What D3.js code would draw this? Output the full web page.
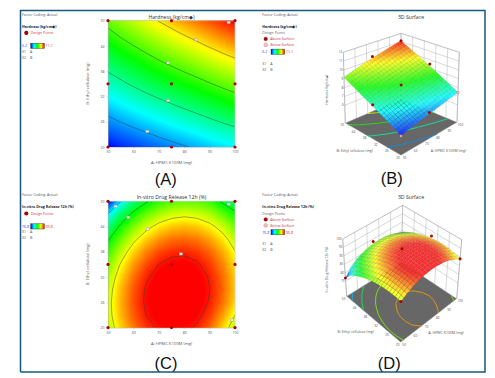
<!DOCTYPE html>
<html>
<head>
<meta charset="utf-8">
<script src="https://cdnjs.cloudflare.com/ajax/libs/d3/7.8.5/d3.min.js"></script>
<style>
  body { margin: 0; background: #fff; }
  text { font-family: "Open Sans", sans-serif; }
  .axis path, .axis line { stroke: #aaa; stroke-width: 0.5; }
  .axis text { font-size: 3.5px; fill: #555; }
</style>
</head>
<body>
<svg id="chart" width="495" height="378"></svg>
<script>
const aGrid = [50, 55, 60, 65, 70, 75, 80, 85, 90, 95, 100];
const bGrid = [20, 23, 26, 29, 32, 35, 38, 41, 44, 47, 50];
const aTicks = [50, 60, 70, 80, 90, 100];
const bTicks = [20, 26, 32, 38, 44, 50];

// rows run from B = 20 up to B = 50, columns from A = 50 to A = 100
const hardness = [
  [6.20, 6.41, 6.52, 6.63, 6.74, 6.85, 6.96, 7.07, 7.19, 7.30, 7.41],
  [6.59, 6.71, 6.83, 6.95, 7.07, 7.19, 7.30, 7.42, 7.55, 7.66, 7.78],
  [6.87, 7.01, 7.14, 7.27, 7.40, 7.52, 7.65, 7.77, 7.90, 8.03, 8.15],
  [7.16, 7.31, 7.45, 7.59, 7.72, 7.86, 7.99, 8.12, 8.26, 8.39, 8.52],
  [7.45, 7.60, 7.76, 7.91, 8.05, 8.19, 8.33, 8.47, 8.61, 8.75, 8.89],
  [7.74, 7.90, 8.07, 8.23, 8.38, 8.53, 8.68, 8.82, 8.97, 9.12, 9.26],
  [8.02, 8.20, 8.37, 8.54, 8.71, 8.87, 9.02, 9.17, 9.33, 9.48, 9.62],
  [8.31, 8.50, 8.68, 8.86, 9.04, 9.20, 9.36, 9.52, 9.68, 9.84, 9.99],
  [8.60, 8.80, 8.99, 9.18, 9.36, 9.54, 9.70, 9.87, 10.04, 10.20, 10.36],
  [8.88, 9.10, 9.30, 9.50, 9.69, 9.87, 10.05, 10.22, 10.39, 10.57, 10.73],
  [9.17, 9.40, 9.61, 9.82, 10.02, 10.21, 10.39, 10.57, 10.75, 10.93, 11.10]
];
const release = [
  [88.96, 91.01, 92.61, 93.78, 94.50, 94.77, 94.61, 94.10, 92.95, 91.10, 88.90],
  [89.36, 91.46, 93.10, 94.32, 95.08, 95.40, 95.29, 94.72, 93.72, 92.00, 90.00],
  [89.44, 91.58, 93.27, 94.54, 95.35, 95.71, 95.64, 95.13, 94.17, 92.77, 90.93],
  [89.23, 91.42, 93.16, 94.47, 95.32, 95.73, 95.71, 95.24, 94.33, 92.98, 91.19],
  [88.70, 90.93, 92.72, 94.07, 94.98, 95.43, 95.46, 95.03, 94.17, 92.86, 91.12],
  [87.86, 90.14, 91.97, 93.37, 94.32, 94.83, 94.90, 94.52, 93.70, 92.44, 90.74],
  [86.72, 89.04, 90.92, 92.37, 93.37, 93.92, 94.03, 93.70, 92.93, 91.72, 90.07],
  [85.27, 87.64, 89.56, 91.06, 92.10, 92.70, 92.86, 92.58, 91.85, 90.69, 89.08],
  [83.50, 85.93, 87.90, 89.44, 90.53, 91.17, 91.38, 91.14, 90.46, 89.34, 87.79],
  [81.00, 83.91, 85.93, 87.52, 88.65, 89.34, 89.60, 89.41, 88.77, 87.50, 86.00],
  [76.80, 80.90, 83.64, 85.27, 86.46, 87.19, 87.46, 87.35, 86.72, 85.20, 83.80]
];

const hardnessLevels = [7, 8, 9, 10, 11];
const releaseLevels = [81, 85.5, 90, 94.3];

const designAB = [[50,20],[75,20],[100,20],[50,35],[75,35],[100,35],[50,50],[75,50],[100,50]];
const hardnessBoxes = [[65.5,23.7],[73.7,31],[73.7,40],[84.7,45.5],[97.5,49.6]];
const releaseBoxes = [[53,48.8],[58,46.2],[65.6,43.4],[78.7,37.5],[97.5,49.3],[98.8,21.8]];

// design points on the 3D plots: [A, B, response]
const hardnessAbove = [[75,20,7.0],[50,35,7.9],[75,35,8.6],[100,35,9.5],[75,50,10.4],[100,50,11.1]];
const hardnessBelow = [[50,20,6.2],[100,20,7.4]];
const releaseAbove = [[50,20,89.0],[100,20,89.0],[50,50,76.8],[75,35,95.8],[100,35,92.0],[75,50,88.5]];

const hardnessZTicks = [6, 7, 8, 9, 10, 11, 12];
const releaseZTicks = [75, 80, 85, 90, 95, 100];

const rampColors = ['#0000ff', '#00ffff', '#00ff00', '#ffff00', '#ff0000'];

const svg = d3.select('#chart');
const defs = svg.append('defs');

function rampScale(lo, hi) {
  return d3.scaleLinear()
    .domain(rampColors.map((c, i) => lo + (hi - lo) * i / 4))
    .range(rampColors)
    .clamp(true);
}

function gridContours(grid, levels) {
  return d3.contours().size([aGrid.length, bGrid.length]).thresholds(levels)(grid.flat());
}

// d3.contours puts a grid value at index + 0.5
const gridToA = d3.scaleLinear().domain([0.5, aGrid.length - 0.5]).range([50, 100]);
const gridToB = d3.scaleLinear().domain([0.5, bGrid.length - 0.5]).range([20, 50]);

function drawLegend(g, cfg) {
  g.append('text').attr('x', cfg.x).attr('y', cfg.y).text('Factor Coding: Actual')
    .style('font-size', '3.6px').style('fill', '#555');
  g.append('text').attr('x', cfg.x).attr('y', cfg.y + 12).text(cfg.title)
    .style('font-size', '3.6px').style('font-weight', 'bold').style('fill', '#222');

  let y = cfg.y + 18.5;
  if (cfg.surface) {
    g.append('text').attr('x', cfg.x).attr('y', y).text('Design Points')
      .style('font-size', '3.6px').style('fill', '#666');
    [['Above Surface', '#a80000', 0], ['Below Surface', '#f4c4c4', 6]].forEach(d => {
      g.append('circle').attr('cx', cfg.x + 3.4).attr('cy', y + 4.6 + d[2]).attr('r', 1.9)
        .attr('fill', d[1]).attr('stroke', '#b05050').attr('stroke-width', 0.3);
      g.append('text').attr('x', cfg.x + 8).attr('y', y + 6 + d[2]).text(d[0])
        .style('font-size', '3.6px').style('fill', '#d03040');
    });
    y += 12;
  } else {
    g.append('circle').attr('cx', cfg.x + 4.3).attr('cy', y - 1.3).attr('r', 2.1).attr('fill', '#a80000');
    g.append('text').attr('x', cfg.x + 8.7).attr('y', y).text('Design Points')
      .style('font-size', '3.6px').style('fill', '#d03040');
  }

  const barTop = cfg.surface ? y + 2.8 : y + 9;
  const gradId = 'grad' + cfg.id;
  const grad = defs.append('linearGradient').attr('id', gradId);
  rampColors.forEach((c, i) => grad.append('stop').attr('offset', i / 4).attr('stop-color', c));
  g.append('rect').attr('x', cfg.x + 8.7).attr('y', barTop).attr('width', 13.6).attr('height', 5.2)
    .attr('fill', `url(#${gradId})`).attr('stroke', '#222').attr('stroke-width', 0.4);
  g.append('text').attr('x', cfg.x).attr('y', barTop + 3.9).text(cfg.lo)
    .style('font-size', '3.6px').style('fill', '#3040ff');
  g.append('text').attr('x', cfg.x + 23.6).attr('y', barTop + 3.9).text(cfg.hi)
    .style('font-size', '3.6px').style('fill', '#e02020');

  const keyTop = cfg.surface ? barTop + 15.6 : barTop + 9.6;
  ['X1 = A', 'X2 = B'].forEach((d, i) => {
    g.append('text').attr('x', cfg.x).attr('y', keyTop + i * 6).text(d)
      .style('font-size', '3.6px').style('fill', '#555');
  });
}

function contourPanel(cfg) {
  const g = svg.append('g');
  const x = d3.scaleLinear().domain([50, 100]).range([108, 235]);
  const y = d3.scaleLinear().domain([20, 50]).range([cfg.top + 126.3, cfg.top]);
  const color = rampScale(cfg.lo, cfg.colorHi);

  drawLegend(g, {x: 22, y: cfg.top - 5, title: cfg.title, lo: cfg.loLabel, hi: cfg.hiLabel, id: cfg.id});

  const path = d3.geoPath(d3.geoTransform({
    point(px, py) { this.stream.point(x(gridToA(px)), y(gridToB(py))); }
  }));

  const clipId = 'clip' + cfg.id;
  defs.append('clipPath').attr('id', clipId).append('rect')
    .attr('x', x(50)).attr('y', y(50)).attr('width', x(100) - x(50)).attr('height', y(20) - y(50));

  const plot = g.append('g').attr('clip-path', `url(#${clipId})`);
  plot.append('rect').attr('x', x(50)).attr('y', y(50)).attr('width', x(100) - x(50))
    .attr('height', y(20) - y(50)).attr('fill', color(cfg.lo));

  // many thin bands give the smooth colour ramp
  const bands = d3.range(cfg.lo, cfg.hi, (cfg.hi - cfg.lo) / 120);
  plot.selectAll('.band').data(gridContours(cfg.grid, bands)).join('path')
    .attr('class', 'band').attr('d', path).attr('fill', d => color(d.value));

  plot.selectAll('.level').data(gridContours(cfg.grid, cfg.levels)).join('path')
    .attr('class', 'level').attr('d', path).attr('fill', 'none')
    .attr('stroke', '#23423a').attr('stroke-opacity', 0.65).attr('stroke-width', 0.7);

  g.append('g').attr('class', 'axis').attr('transform', `translate(0,${y(20)})`)
    .call(d3.axisBottom(x).tickValues(aTicks).tickSizeInner(1.5).tickSizeOuter(0).tickPadding(2));
  g.append('g').attr('class', 'axis').attr('transform', `translate(${x(50)},0)`)
    .call(d3.axisLeft(y).tickValues(bTicks).tickSizeInner(1.5).tickSizeOuter(0).tickPadding(2));
  g.append('path').attr('d', `M${x(50)},${y(50)}H${x(100)}V${y(20)}`).attr('fill', 'none')
    .attr('stroke', '#ccc').attr('stroke-width', 0.7);

  g.selectAll('.box').data(cfg.boxes).join('rect').attr('class', 'box')
    .attr('x', d => x(d[0]) - 1.6).attr('y', d => y(d[1]) - 1.2).attr('width', 3.2).attr('height', 2.4)
    .attr('fill', '#e8e8e8').attr('stroke', '#999').attr('stroke-width', 0.4);

  g.selectAll('.design').data(designAB).join('circle').attr('class', 'design')
    .attr('cx', d => x(d[0])).attr('cy', d => y(d[1])).attr('r', 1.6).attr('fill', '#b00000');

  g.append('text').attr('x', 171.5).attr('y', cfg.top - 2.2).attr('text-anchor', 'middle').text(cfg.title)
    .style('font-size', '5.2px').style('fill', '#333');
  g.append('text').attr('x', 171.5).attr('y', y(20) + 17).attr('text-anchor', 'middle').text('A: HPMC K100M (mg)')
    .style('font-size', '4.2px').style('fill', '#555');
  g.append('text').attr('transform', `translate(89,${cfg.top + 63}) rotate(-90)`).attr('text-anchor', 'middle')
    .text('B: Ethyl cellulose (mg)').style('font-size', '4.2px').style('fill', '#555');
}

function surfacePanel(cfg) {
  const g = svg.append('g');
  const color = rampScale(cfg.lo, cfg.colorHi);
  // floor lines read a little cooler than the surface above them
  const floorColor = rampScale(cfg.lo, cfg.hi + (cfg.hi - cfg.lo) * 0.1);
  const au = d3.scaleLinear().domain([50, 100]).range([0, 1]);
  const bv = d3.scaleLinear().domain([20, 50]).range([0, 1]);
  const zw = d3.scaleLinear().domain(cfg.zDomain).range([0, 1]);
  const zFloor = cfg.zDomain[0], zTop = cfg.zDomain[1];

  drawLegend(g, {x: 262.3, y: cfg.top, title: cfg.title, lo: cfg.loLabel, hi: cfg.hiLabel, id: cfg.id, surface: true});

  // box corners on the page set the view of the plot box
  function project(a, b, z) {
    const u = au(a), v = bv(b), w = zw(z);
    const pick = i => {
      const lo = (1-u)*(1-v)*cfg.floor.front[i] + u*(1-v)*cfg.floor.right[i] + (1-u)*v*cfg.floor.left[i] + u*v*cfg.floor.back[i];
      const hi = (1-u)*(1-v)*cfg.roof.front[i] + u*(1-v)*cfg.roof.right[i] + (1-u)*v*cfg.roof.left[i] + u*v*cfg.roof.back[i];
      return lo + (hi - lo) * w;
    };
    return [pick(0), pick(1)];
  }
  const line = d3.line();
  const poly = pts => line(pts) + 'Z';
  const wire = (pts, w) => g.append('path').attr('d', line(pts)).attr('fill', 'none')
    .attr('stroke', '#aaa').attr('stroke-width', w || 0.45);

  // back walls
  g.append('path').attr('fill', '#fff')
    .attr('d', poly([project(50,50,zFloor), project(100,50,zFloor), project(100,50,zTop), project(50,50,zTop)]));
  g.append('path').attr('fill', '#fff')
    .attr('d', poly([project(100,20,zFloor), project(100,50,zFloor), project(100,50,zTop), project(100,20,zTop)]));
  aTicks.forEach(a => wire([project(a,50,zFloor), project(a,50,zTop)]));
  bTicks.forEach(b => wire([project(100,b,zFloor), project(100,b,zTop)]));
  cfg.zTicks.concat([zTop]).forEach(z => {
    wire([project(50,50,z), project(100,50,z), project(100,20,z)]);
  });
  wire([project(50,50,zFloor), project(50,50,zTop)], 0.6);
  wire([project(100,20,zFloor), project(100,20,zTop)], 0.6);

  // floor with its contour lines
  g.append('path').attr('fill', '#676767').attr('stroke', '#bbb').attr('stroke-width', 0.4)
    .attr('d', poly([project(50,20,zFloor), project(100,20,zFloor), project(100,50,zFloor), project(50,50,zFloor)]));

  const inside = p => p[0] >= 0.5 && p[0] <= aGrid.length - 0.5 && p[1] >= 0.5 && p[1] <= bGrid.length - 0.5;
  const floorLine = d3.line().defined(inside)
    .x(p => project(gridToA(p[0]), gridToB(p[1]), zFloor)[0])
    .y(p => project(gridToA(p[0]), gridToB(p[1]), zFloor)[1]);
  gridContours(cfg.grid, cfg.levels).forEach(c => {
    c.coordinates.forEach(polygon => polygon.forEach(ring => {
      g.append('path').attr('d', floorLine(ring)).attr('fill', 'none')
        .attr('stroke', d3.interpolateRgb(floorColor(c.value), '#555')(0.2)).attr('stroke-width', 1);
    }));
  });

  // surface, painted from the back corner to the front; each data cell is split in two for the shading
  const n = aGrid.length - 1, step = 2;
  const zAt = (i, j) => {
    const i0 = Math.min(Math.floor(i), n - 1), j0 = Math.min(Math.floor(j), n - 1);
    const fi = i - i0, fj = j - j0;
    const low = d3.interpolateNumber(cfg.grid[j0][i0], cfg.grid[j0][i0 + 1])(fi);
    const high = d3.interpolateNumber(cfg.grid[j0 + 1][i0], cfg.grid[j0 + 1][i0 + 1])(fi);
    return d3.interpolateNumber(low, high)(fj);
  };
  const aAt = d3.scaleLinear().domain([0, n]).range([50, 100]);
  const bAt = d3.scaleLinear().domain([0, n]).range([20, 50]);
  const cells = [];
  for (let j = 0; j < n * step; j++) {
    for (let i = 0; i < n * step; i++) cells.push([i / step, j / step]);
  }
  cells.sort((p, q) => (q[0] + q[1]) - (p[0] + p[1]));
  g.selectAll('.cell').data(cells).join('path').attr('class', 'cell')
    .attr('d', ([i, j]) => {
      const s = 1 / step;
      return poly([[i,j],[i+s,j],[i+s,j+s],[i,j+s]].map(c => project(aAt(c[0]), bAt(c[1]), zAt(c[0], c[1]))));
    })
    .attr('fill', ([i, j]) => d3.interpolateRgb(color(zAt(i + 0.25, j + 0.25)), '#fff')(cfg.wash))
    .attr('stroke', '#333').attr('stroke-opacity', 0.35).attr('stroke-width', 0.3);

  g.selectAll('.above').data(cfg.above).join('circle').attr('class', 'above')
    .attr('cx', d => project(d[0], d[1], d[2])[0]).attr('cy', d => project(d[0], d[1], d[2])[1])
    .attr('r', 1.5).attr('fill', '#b00000');
  g.selectAll('.below').data(cfg.below).join('circle').attr('class', 'below')
    .attr('cx', d => project(d[0], d[1], d[2])[0]).attr('cy', d => project(d[0], d[1], d[2])[1])
    .attr('r', 1.2).attr('fill', '#f6d0d0').attr('stroke', '#c04040').attr('stroke-width', 0.4);

  // tick labels
  const small = sel => sel.style('font-size', '3.2px').style('fill', '#555').attr('text-anchor', 'middle');
  g.selectAll('.atick').data(aTicks).join('text').attr('class', 'atick').call(small).text(d => d)
    .attr('x', d => project(d, 20, zFloor)[0] + 3.5).attr('y', d => project(d, 20, zFloor)[1] + 3.2);
  g.selectAll('.btick').data(bTicks).join('text').attr('class', 'btick').call(small).text(d => d)
    .attr('x', d => project(50, d, zFloor)[0] - 3).attr('y', d => project(50, d, zFloor)[1] + 3.2);
  g.selectAll('.ztick').data(cfg.zTicks).join('text').attr('class', 'ztick').call(small)
    .attr('text-anchor', 'end').text(d => d)
    .attr('x', d => project(50, 50, d)[0] - 1).attr('y', d => project(50, 50, d)[1] + 1);

  g.append('text').attr('x', 411).attr('y', cfg.titleY).attr('text-anchor', 'middle').text('3D Surface')
    .style('font-size', '5.2px').style('fill', '#333');
  g.append('text').attr('x', cfg.bLabel[0]).attr('y', cfg.bLabel[1]).attr('text-anchor', 'middle')
    .text('B: Ethyl cellulose (mg)').style('font-size', '3.6px').style('fill', '#555');
  g.append('text').attr('x', cfg.aLabel[0]).attr('y', cfg.aLabel[1]).attr('text-anchor', 'middle')
    .text('A: HPMC K100M (mg)').style('font-size', '3.6px').style('fill', '#555');
  g.append('text').attr('transform', `translate(${cfg.zLabel[0]},${cfg.zLabel[1]}) rotate(-90)`)
    .attr('text-anchor', 'middle').text(cfg.title).style('font-size', '3.4px').style('fill', '#555');
}

contourPanel({id: 'A', top: 20.7, title: 'Hardness (kg/cm◆)', grid: hardness, lo: 6.2, hi: 11.1, colorHi: 11.1,
  loLabel: '6.2', hiLabel: '11.1', levels: hardnessLevels, boxes: hardnessBoxes});
contourPanel({id: 'C', top: 201.3, title: 'In-vitro Drug Release 12h (%)', grid: release, lo: 76.8, hi: 95.8, colorHi: 94.6,
  loLabel: '76.8', hiLabel: '95.8', levels: releaseLevels, boxes: releaseBoxes});

surfacePanel({id: 'B', top: 15.8, title: 'Hardness (kg/cm◆)', grid: hardness, lo: 6.2, hi: 11.1, colorHi: 11.1,
  loLabel: '6.2', hiLabel: '11.1', levels: hardnessLevels, zDomain: [4, 12], zTicks: hardnessZTicks,
  above: hardnessAbove, below: hardnessBelow, wash: 0.12, titleY: 18.6,
  floor: {front: [401, 155.3], right: [457, 122.3], left: [345.3, 123], back: [401, 99]},
  roof: {front: [401, 85], right: [459.3, 52.3], left: [343.3, 52.3], back: [401, 33.3]},
  bLabel: [354.7, 152], aLabel: [448.3, 152], zLabel: [327.5, 90]});
surfacePanel({id: 'D', top: 196.3, title: 'In-vitro Drug Release 12h (%)', grid: release, lo: 76.8, hi: 95.8, colorHi: 94.6,
  loLabel: '76.8', hiLabel: '95.8', levels: releaseLevels, zDomain: [66, 100], zTicks: releaseZTicks,
  above: releaseAbove, below: [], wash: 0.18, titleY: 199,
  floor: {front: [400.7, 342.3], right: [456.7, 298.7], left: [346.7, 296.3], back: [401.5, 262]},
  roof: {front: [401, 282], right: [461.7, 239.7], left: [342.7, 239], back: [402.7, 205.3]},
  bLabel: [355.7, 332.6], aLabel: [446, 334.3], zLabel: [327.5, 269.7]});

// panel letters and the frame round the figure
[['(A)', 165.7, 184.5], ['(B)', 391.7, 184], ['(C)', 166, 369], ['(D)', 389.3, 369]].forEach(d => {
  svg.append('text').attr('x', d[1]).attr('y', d[2]).attr('text-anchor', 'middle').text(d[0])
    .style('font-family', '"Liberation Sans", Arial, sans-serif').style('font-size', '16.5px').style('fill', '#111');
});
svg.append('path').attr('d', 'M20.5,372V10.5H485V372H20.5')
  .attr('fill', 'none').attr('stroke', '#17587e').attr('stroke-width', 1.5);
</script>
</body>
</html>
